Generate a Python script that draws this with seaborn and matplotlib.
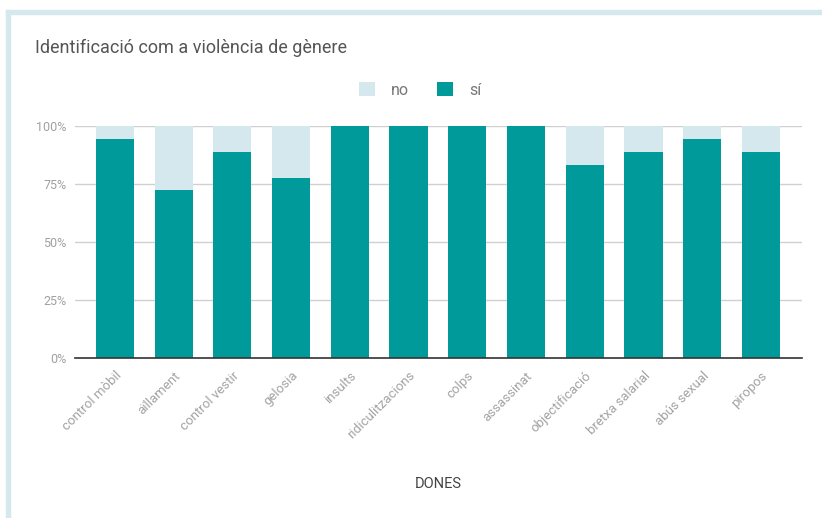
import matplotlib
matplotlib.use("Agg")
import matplotlib.pyplot as plt
from matplotlib.patches import Rectangle, Patch
import seaborn as sns
import pandas as pd

categories = ["control mòbil", "aïllament", "control vestir", "gelosia", "insults",
              "ridiculitzacions", "colps", "assassinat", "objectificació",
              "bretxa salarial", "abús sexual", "piropos"]
si_pct = [94.4, 72.2, 88.9, 77.8, 100, 100, 100, 100, 83.3, 88.9, 94.4, 88.9]
no_pct = [100 - v for v in si_pct]
series_labels = ["no", "sí"]
y_ticks = [0, 25, 50, 75, 100]

SI_COLOR = "#009a9b"
NO_COLOR = "#d4e8ee"

df = pd.DataFrame({"cat": categories, "si": si_pct, "no": no_pct})
df["total"] = df["si"] + df["no"]

sns.set_theme(style="white")
plt.rcParams["font.family"] = ["Roboto", "DejaVu Sans"]

fig = plt.figure(figsize=(8.22, 5.18), dpi=100)
ax = fig.add_axes([75 / 822, 1 - 358 / 518, (802 - 75) / 822, (358 - 126) / 518])

# stacked 100% bars: full height in "no" colour, "sí" share drawn over it
sns.barplot(data=df, x="cat", y="total", color=NO_COLOR, width=0.65,
            saturation=1, ax=ax, linewidth=0)
sns.barplot(data=df, x="cat", y="si", color=SI_COLOR, width=0.65,
            saturation=1, ax=ax, linewidth=0)

ax.set_ylim(0, 100)
ax.set_xlim(-0.68, 11.7)
ax.set_yticks(y_ticks)
ax.set_yticklabels([f"{t}%" for t in y_ticks], color="#a0a0a0", fontsize=9)
ax.yaxis.grid(True, color="#d0d0d0", linewidth=1)
ax.set_axisbelow(True)
for s in ["top", "right", "left"]:
    ax.spines[s].set_visible(False)
ax.spines["bottom"].set_color("#333333")
ax.spines["bottom"].set_linewidth(1.2)
ax.spines["bottom"].set_zorder(5)
ax.tick_params(axis="both", length=0, pad=6)
ax.tick_params(axis="x", pad=8)
ax.set_xticks(range(len(categories)))
ax.set_xticklabels(categories, rotation=45, ha="right", rotation_mode="anchor",
                   color="#a3a3a3", fontsize=9.5)
ax.set_xlabel("")
ax.set_ylabel("")

fig.text(438 / 822, 1 - 484 / 518, "DONES", ha="center", va="center",
         fontsize=10.5, color="#444444")
fig.text(35 / 822, 1 - 48 / 518, "Identificació com a violència de gènere",
         ha="left", va="center", fontsize=13, color="#555555")

handles = [Patch(facecolor=NO_COLOR, edgecolor="none"),
           Patch(facecolor=SI_COLOR, edgecolor="none")]
fig.legend(handles, series_labels, loc="center", bbox_to_anchor=(420 / 822, 1 - 90 / 518),
           ncol=2, frameon=False, fontsize=11.5, labelcolor="#777777",
           handlelength=1.0, handleheight=1.0, columnspacing=1.8, handletextpad=1.0)

# light frame along the left and top edges
fig.patches.append(Rectangle((6 / 822, 0), 4 / 822, 1 - 10 / 518,
                             transform=fig.transFigure, color=NO_COLOR, zorder=0))
fig.patches.append(Rectangle((6 / 822, 1 - 14 / 518), 1, 4 / 518,
                             transform=fig.transFigure, color=NO_COLOR, zorder=0))

fig.savefig("out.png", dpi=100)
